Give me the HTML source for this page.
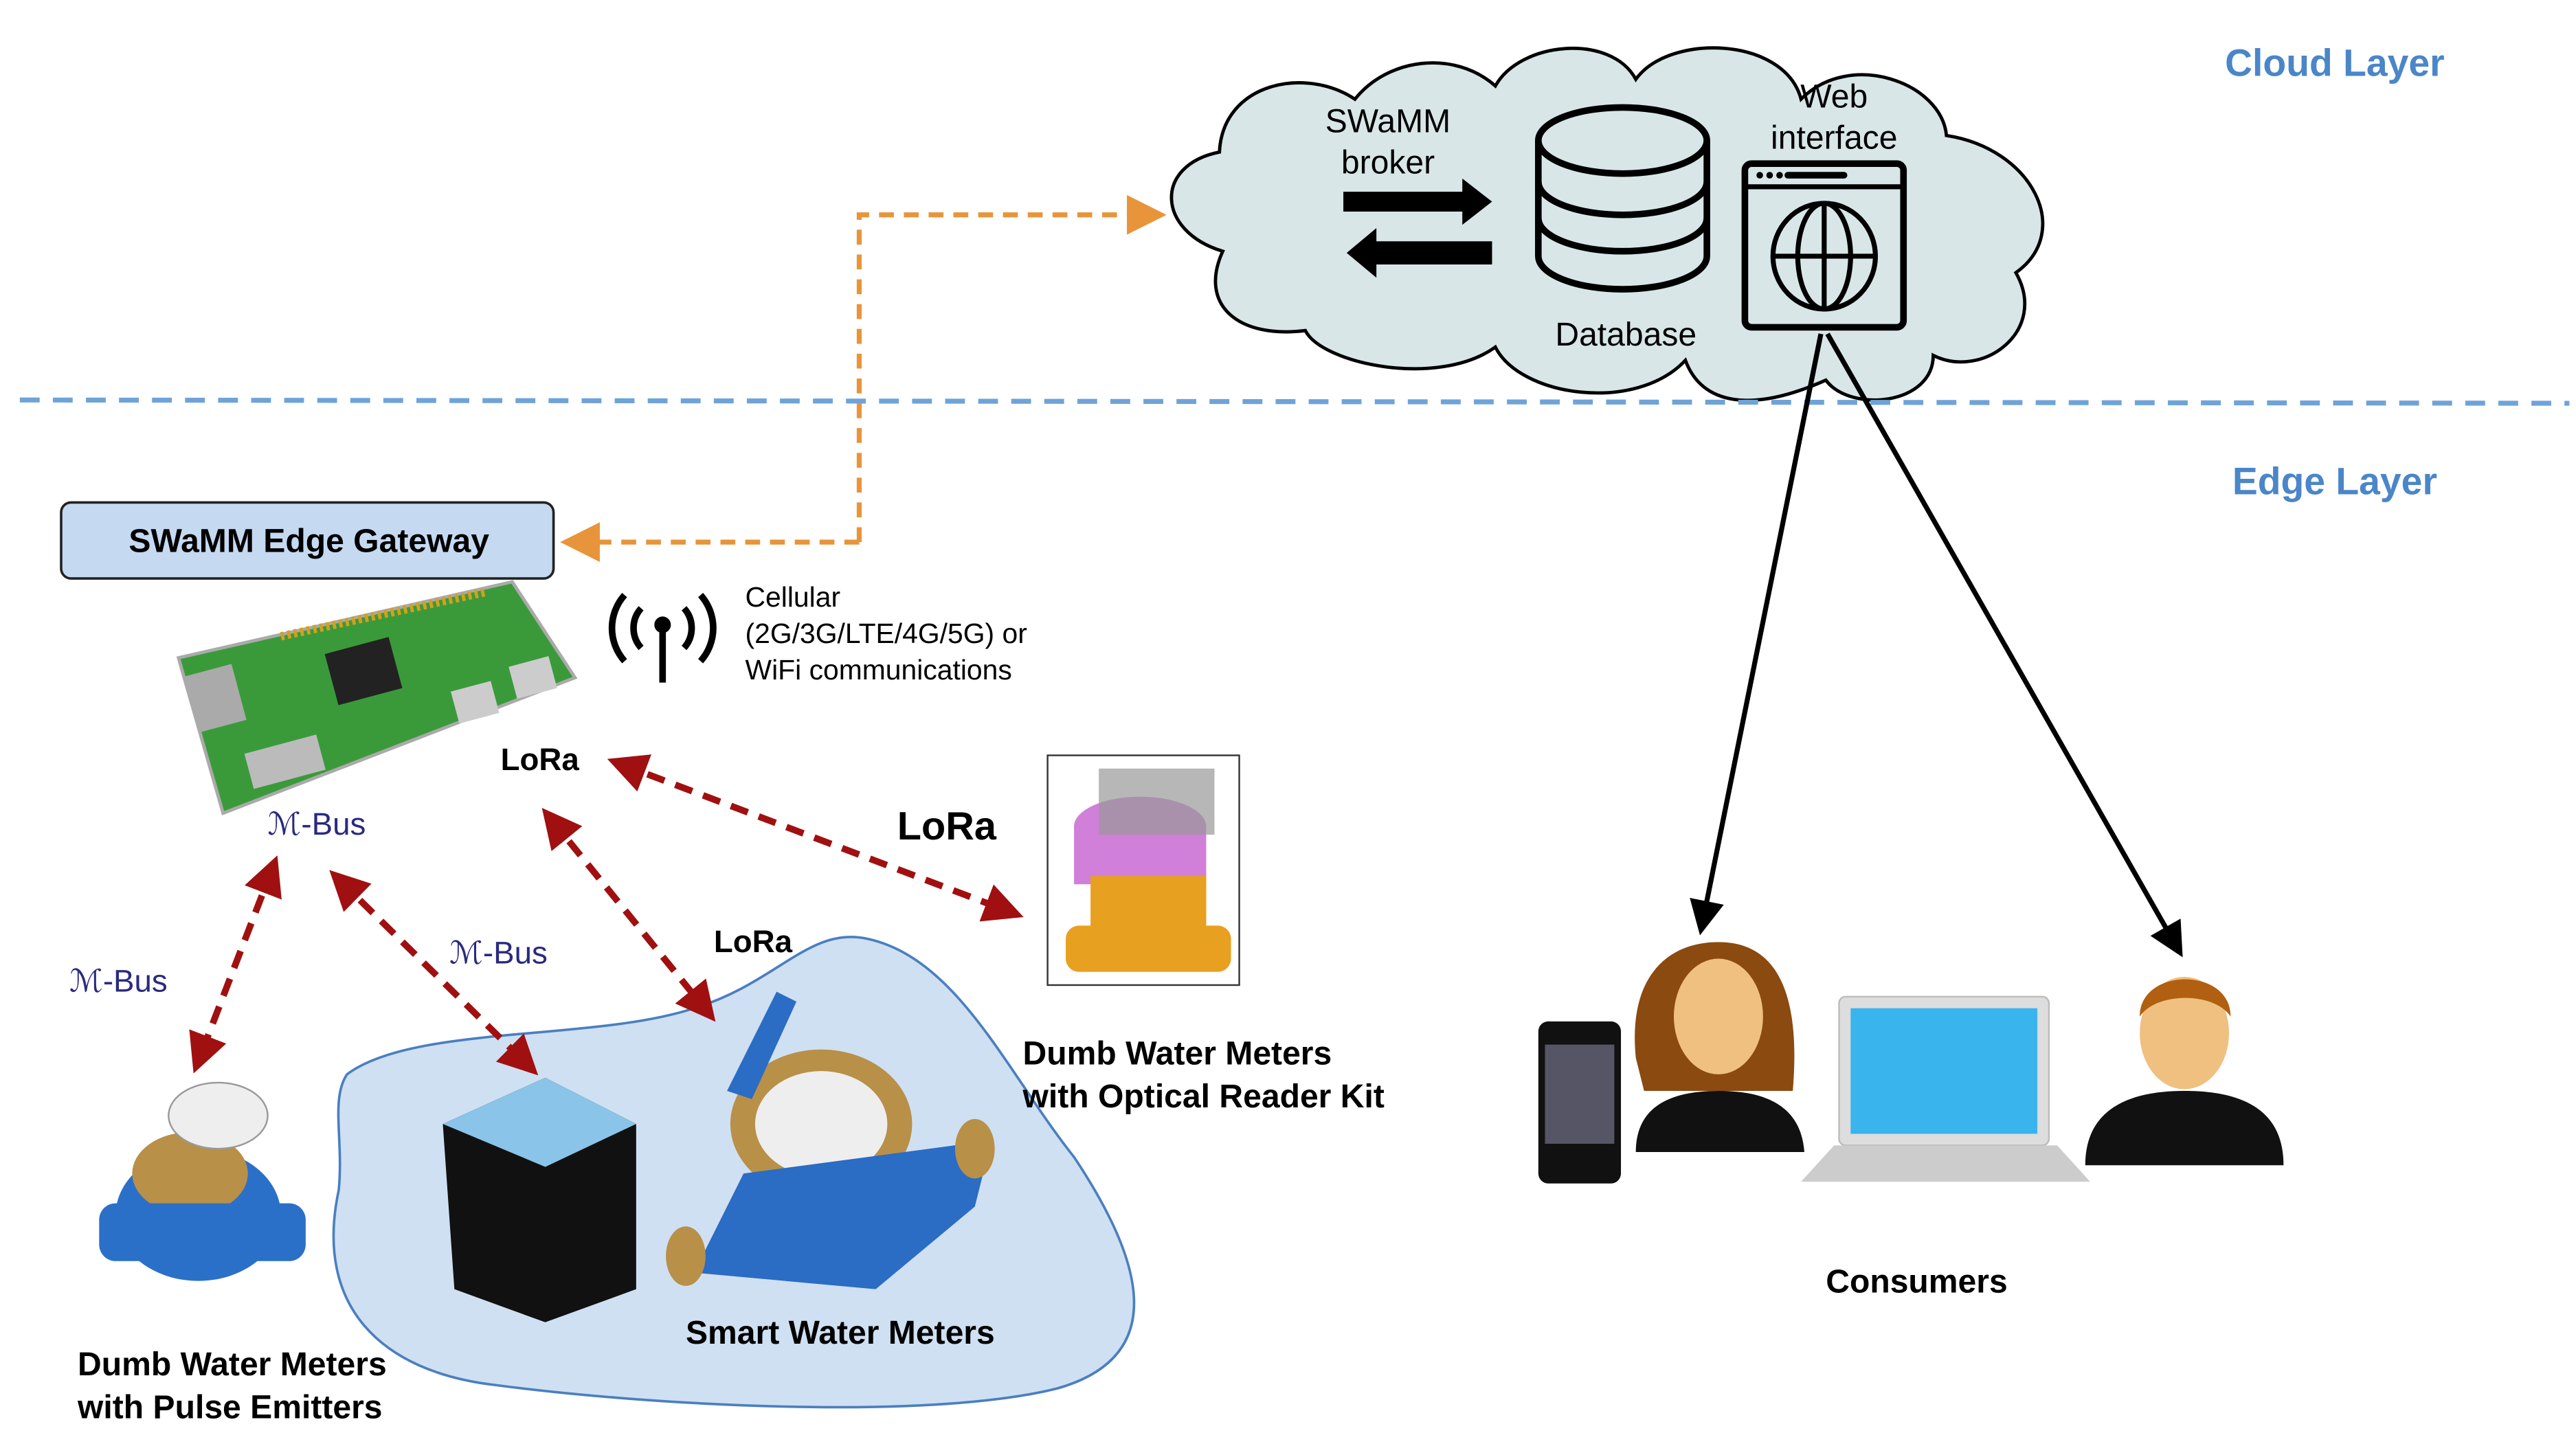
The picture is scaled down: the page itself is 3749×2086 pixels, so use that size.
<!DOCTYPE html>
<html><head><meta charset="utf-8"><style>html,body{margin:0;padding:0;background:#fff}svg{display:block}text{font-family:"Liberation Sans",Arial,sans-serif}</style></head>
<body>
<svg width="3749" height="2086" viewBox="0 0 1559 867" preserveAspectRatio="none" xmlns="http://www.w3.org/2000/svg">
<defs>
<marker id="ao" markerWidth="8" markerHeight="8" refX="6" refY="4" orient="auto" markerUnits="strokeWidth"><path d="M0,0 L8,4 L0,8 z" fill="#e8943a"/></marker>
<marker id="ar" markerWidth="6" markerHeight="6" refX="4" refY="3" orient="auto-start-reverse" markerUnits="strokeWidth"><path d="M0,0 L6,3 L0,6 z" fill="#a01010"/></marker>
<marker id="ab" markerWidth="7" markerHeight="7" refX="5" refY="3.5" orient="auto" markerUnits="strokeWidth"><path d="M0,0 L7,3.5 L0,7 z" fill="#000"/></marker>
</defs>
<path d="M740,152 C700,140 698,100 738,92 C740,50 790,40 820,60 C840,35 880,30 905,52 C920,25 975,20 990,48 C1010,20 1080,22 1090,60 C1120,30 1175,50 1178,82 C1230,90 1255,140 1220,165 C1240,200 1200,230 1170,215 C1170,245 1120,250 1105,230 C1060,250 1030,245 1020,218 C990,250 920,240 905,210 C870,235 800,220 790,200 C750,205 725,185 740,152 Z" fill="#d8e6e8" stroke="#000" stroke-width="2"/>
<text x="840" y="80" font-size="20" text-anchor="middle">SWaMM</text>
<text x="840" y="105" font-size="20" text-anchor="middle">broker</text>
<path d="M813,116 H885 V108 L903,122 L885,136 V128 H813Z" fill="#000"/>
<path d="M903,146 H833 V138 L815,153 L833,168 V160 H903Z" fill="#000"/>
<g fill="none" stroke="#000" stroke-width="4">
<path d="M931,85 V155 A51,20 0 0 0 1033,155 V85"/><ellipse cx="982" cy="85" rx="51" ry="20"/>
<path d="M931,110 A51,20 0 0 0 1033,110 M931,132 A51,20 0 0 0 1033,132"/>
<rect x="1056" y="99" width="96" height="99" rx="4" fill="#d8e6e8"/><line x1="1056" y1="113" x2="1152" y2="113" stroke-width="3"/>
<ellipse cx="1104" cy="155" rx="31" ry="32" stroke-width="3"/><ellipse cx="1104" cy="155" rx="16" ry="32" stroke-width="3"/>
<line x1="1104" y1="123" x2="1104" y2="187" stroke-width="3"/><line x1="1073" y1="155" x2="1135" y2="155" stroke-width="3"/>
</g>
<line x1="1082" y1="106" x2="1116" y2="106" stroke="#000" stroke-width="4" stroke-linecap="round"/>
<circle cx="1065" cy="106" r="2" fill="#000"/><circle cx="1071" cy="106" r="2" fill="#000"/><circle cx="1077" cy="106" r="2" fill="#000"/>
<text x="1110" y="65" font-size="20" text-anchor="middle">Web</text>
<text x="1110" y="90" font-size="20" text-anchor="middle">interface</text>
<text x="984" y="209" font-size="20" text-anchor="middle">Database</text>
<text x="1413" y="46" font-size="23" font-weight="bold" fill="#4a86c8" text-anchor="middle">Cloud Layer</text>
<text x="1413" y="299" font-size="23" font-weight="bold" fill="#4a86c8" text-anchor="middle">Edge Layer</text>
<line x1="12" y1="242" x2="1555" y2="244" stroke="#6fa3d8" stroke-width="3" stroke-dasharray="12,8"/>
<path d="M520,328 V130 H700" fill="none" stroke="#e8943a" stroke-width="3" stroke-dasharray="9,6" marker-end="url(#ao)"/>
<path d="M520,328 H345" fill="none" stroke="#e8943a" stroke-width="3" stroke-dasharray="9,6" marker-end="url(#ao)"/>
<rect x="37" y="304" width="298" height="46" rx="6" fill="#c5d9f1" stroke="#222" stroke-width="1.5"/>
<text x="187" y="334" font-size="20" font-weight="bold" text-anchor="middle">SWaMM Edge Gateway</text>
<path d="M108,398 L310,352 L348,410 L135,492 Z" fill="#3a9a3a" stroke="#aaa" stroke-width="2"/>
<rect x="200" y="390" width="40" height="32" fill="#222" transform="rotate(-15 220 406)"/>
<rect x="150" y="450" width="45" height="22" fill="#bbb" transform="rotate(-15 172 461)"/>
<rect x="115" y="405" width="30" height="35" fill="#aaa" transform="rotate(-15 130 422)"/>
<rect x="275" y="415" width="25" height="20" fill="#ccc" transform="rotate(-15 287 425)"/>
<rect x="310" y="400" width="25" height="20" fill="#ccc" transform="rotate(-15 322 410)"/>
<line x1="170" y1="385" x2="295" y2="358" stroke="#d4a020" stroke-width="5" stroke-dasharray="2,2"/>
<g fill="none" stroke="#000" stroke-width="4"><line x1="401" y1="380" x2="401" y2="413"/>
<path d="M388,368 A18,18 0 0 0 388,392 M414,368 A18,18 0 0 1 414,392 M378,360 A30,30 0 0 0 378,400 M424,360 A30,30 0 0 1 424,400"/></g>
<circle cx="401" cy="378" r="5" fill="#000"/>
<text x="451" y="367" font-size="17">Cellular</text>
<text x="451" y="389" font-size="17">(2G/3G/LTE/4G/5G) or</text>
<text x="451" y="411" font-size="17">WiFi communications</text>
<path d="M210,650 C250,620 360,630 420,610 C470,595 490,560 525,568 C580,580 610,650 650,700 C690,760 710,820 640,840 C560,860 390,850 300,838 C230,830 190,790 205,720 C208,690 200,665 210,650Z" fill="#cfe0f2" stroke="#4a7fc0" stroke-width="1.5"/>
<g font-weight="bold" font-size="19"><text x="303" y="466">LoRa</text><text x="543" y="508" font-size="24">LoRa</text><text x="432" y="576">LoRa</text></g>
<g fill="#2a2a80" font-size="19"><text x="162" y="505">ℳ-Bus</text><text x="272" y="583">ℳ-Bus</text><text x="42" y="600">ℳ-Bus</text></g>
<g stroke="#a01010" stroke-width="4" stroke-dasharray="11,7" fill="none">
<line x1="375" y1="462" x2="612" y2="552" marker-end="url(#ar)" marker-start="url(#ar)"/>
<line x1="333" y1="495" x2="428" y2="612" marker-end="url(#ar)" marker-start="url(#ar)"/>
<line x1="205" y1="532" x2="320" y2="645" marker-end="url(#ar)" marker-start="url(#ar)"/>
<line x1="165" y1="525" x2="120" y2="642" marker-end="url(#ar)" marker-start="url(#ar)"/>
</g>
<path d="M268,680 L330,652 L385,680 L385,780 L330,800 L275,780 Z" fill="#111"/>
<path d="M268,680 L330,652 L385,680 L330,706 Z" fill="#8ac4e8"/>
<ellipse cx="497" cy="680" rx="55" ry="45" fill="#b89048"/><ellipse cx="497" cy="680" rx="40" ry="32" fill="#eee"/>
<path d="M450,710 L600,690 L590,730 L530,780 L420,770 Z" fill="#2b6cc4"/>
<ellipse cx="415" cy="760" rx="12" ry="18" fill="#b89048"/><ellipse cx="590" cy="695" rx="12" ry="18" fill="#b89048"/>
<path d="M440,660 L470,600 L482,606 L455,665Z" fill="#2b6cc4"/>
<ellipse cx="120" cy="735" rx="50" ry="40" fill="#2b70c8"/><ellipse cx="115" cy="710" rx="35" ry="25" fill="#b89048"/>
<ellipse cx="132" cy="675" rx="30" ry="20" fill="#eee" stroke="#999"/>
<rect x="60" y="728" width="125" height="35" rx="10" fill="#2b70c8"/>
<rect x="634" y="457" width="116" height="139" fill="#fff" stroke="#333"/>
<ellipse cx="690" cy="500" rx="40" ry="18" fill="#d080d8"/><rect x="650" y="500" width="80" height="35" fill="#d080d8"/>
<rect x="665" y="465" width="70" height="40" fill="#999" opacity=".7"/>
<rect x="645" y="560" width="100" height="28" rx="8" fill="#e8a020"/><rect x="660" y="530" width="70" height="50" fill="#e8a020"/>
<g font-size="20" font-weight="bold">
<text x="619" y="644">Dumb Water Meters</text><text x="619" y="670">with Optical Reader Kit</text>
<text x="47" y="832">Dumb Water Meters</text><text x="47" y="858">with Pulse Emitters</text>
<text x="415" y="813">Smart Water Meters</text>
<text x="1160" y="782" text-anchor="middle">Consumers</text></g>
<line x1="1102" y1="202" x2="1030" y2="560" stroke="#000" stroke-width="3" marker-end="url(#ab)"/>
<line x1="1106" y1="202" x2="1318" y2="574" stroke="#000" stroke-width="3" marker-end="url(#ab)"/>
<rect x="931" y="618" width="50" height="98" rx="6" fill="#111"/><rect x="935" y="632" width="42" height="60" fill="#556"/>
<path d="M990,697 C990,670 1010,660 1040,660 C1070,660 1090,670 1092,697Z" fill="#111"/>
<path d="M990,640 C985,590 1010,570 1040,570 C1075,570 1090,600 1085,660 L995,660Z" fill="#8a4a10"/>
<ellipse cx="1040" cy="615" rx="27" ry="35" fill="#f0c080"/>
<rect x="1113" y="603" width="127" height="90" rx="4" fill="#ddd" stroke="#bbb"/><rect x="1120" y="610" width="113" height="76" fill="#3ab4ec"/>
<path d="M1090,715 L1110,693 L1245,693 L1265,715Z" fill="#ccc"/>
<path d="M1262,705 C1262,670 1290,660 1322,660 C1355,660 1382,670 1382,705Z" fill="#111"/>
<ellipse cx="1322" cy="625" rx="27" ry="34" fill="#f0c080"/>
<path d="M1295,615 C1295,585 1350,585 1350,615 C1340,600 1305,600 1295,615Z" fill="#b06010"/>
</svg>
</body></html>
